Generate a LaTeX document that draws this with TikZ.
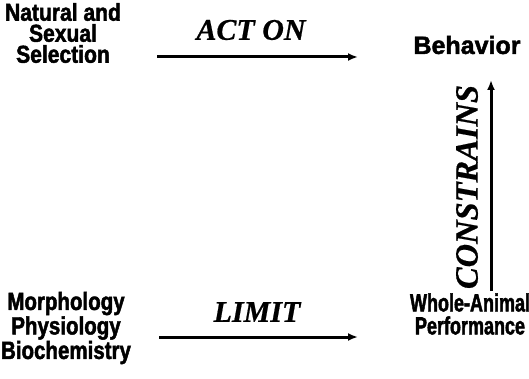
\documentclass[tikz,border=0pt]{standalone}
\usepackage{fontspec}
\usetikzlibrary{arrows.meta}
\newfontfamily\lblA[FakeBold=1.8,FakeStretch=0.86]{Liberation Sans Bold}
\newfontfamily\lblB[FakeBold=1.8,FakeStretch=1.0]{Liberation Sans Bold}
\newfontfamily\lblC[FakeBold=1.8,FakeStretch=0.82]{Liberation Sans Bold}
\newfontfamily\lblD[FakeBold=1.8,FakeStretch=0.72]{Liberation Sans Bold}
\newfontfamily\verbfont[FakeBold=0.6]{Liberation Serif Bold Italic}
\tikzset{
  lbl/.style={align=center, inner sep=0pt},
  verb/.style={font=\verbfont\fontsize{30}{30}\selectfont, inner sep=0pt},
  arr/.style={line width=3pt, -{Latex[length=10pt,width=8pt]}}
}
\begin{document}
\begin{tikzpicture}[x=1pt,y=-1pt]
\useasboundingbox (0,0) rectangle (529,379);
\node[lbl, font=\lblA\fontsize{24.5}{21}\selectfont] (nat) at (63,33) {Natural and\\Sexual\\Selection};
\node[lbl, font=\lblB\fontsize{25}{25}\selectfont] (beh) at (467,45) {Behavior};
\node[lbl, font=\lblC\fontsize{25}{24.5}\selectfont] (mor) at (66,328) {Morphology\\Physiology\\Biochemistry};
\node[lbl, font=\lblD\fontsize{25}{23}\selectfont] (who) at (470,314) {Whole-Animal\\Performance};
\coordinate (a1s) at (157,57);
\coordinate (a1e) at (358,57);
\coordinate (a2s) at (159,337);
\coordinate (a2e) at (358,337);
\coordinate (a3s) at (491,291);
\coordinate (a3e) at (491,80);
\draw[arr] (a1s) -- (a1e);
\draw[arr] (a2s) -- (a2e);
\draw[arr] (a3s) -- (a3e);
\node[verb] (act) at (251,30) {ACT ON};
\node[verb] (lim) at (257,312) {LIMIT};
\node[verb, font=\verbfont\fontsize{32.5}{32.5}\selectfont, rotate=90] (con) at (467,187) {CONSTRAINS};
\end{tikzpicture}
\end{document}
